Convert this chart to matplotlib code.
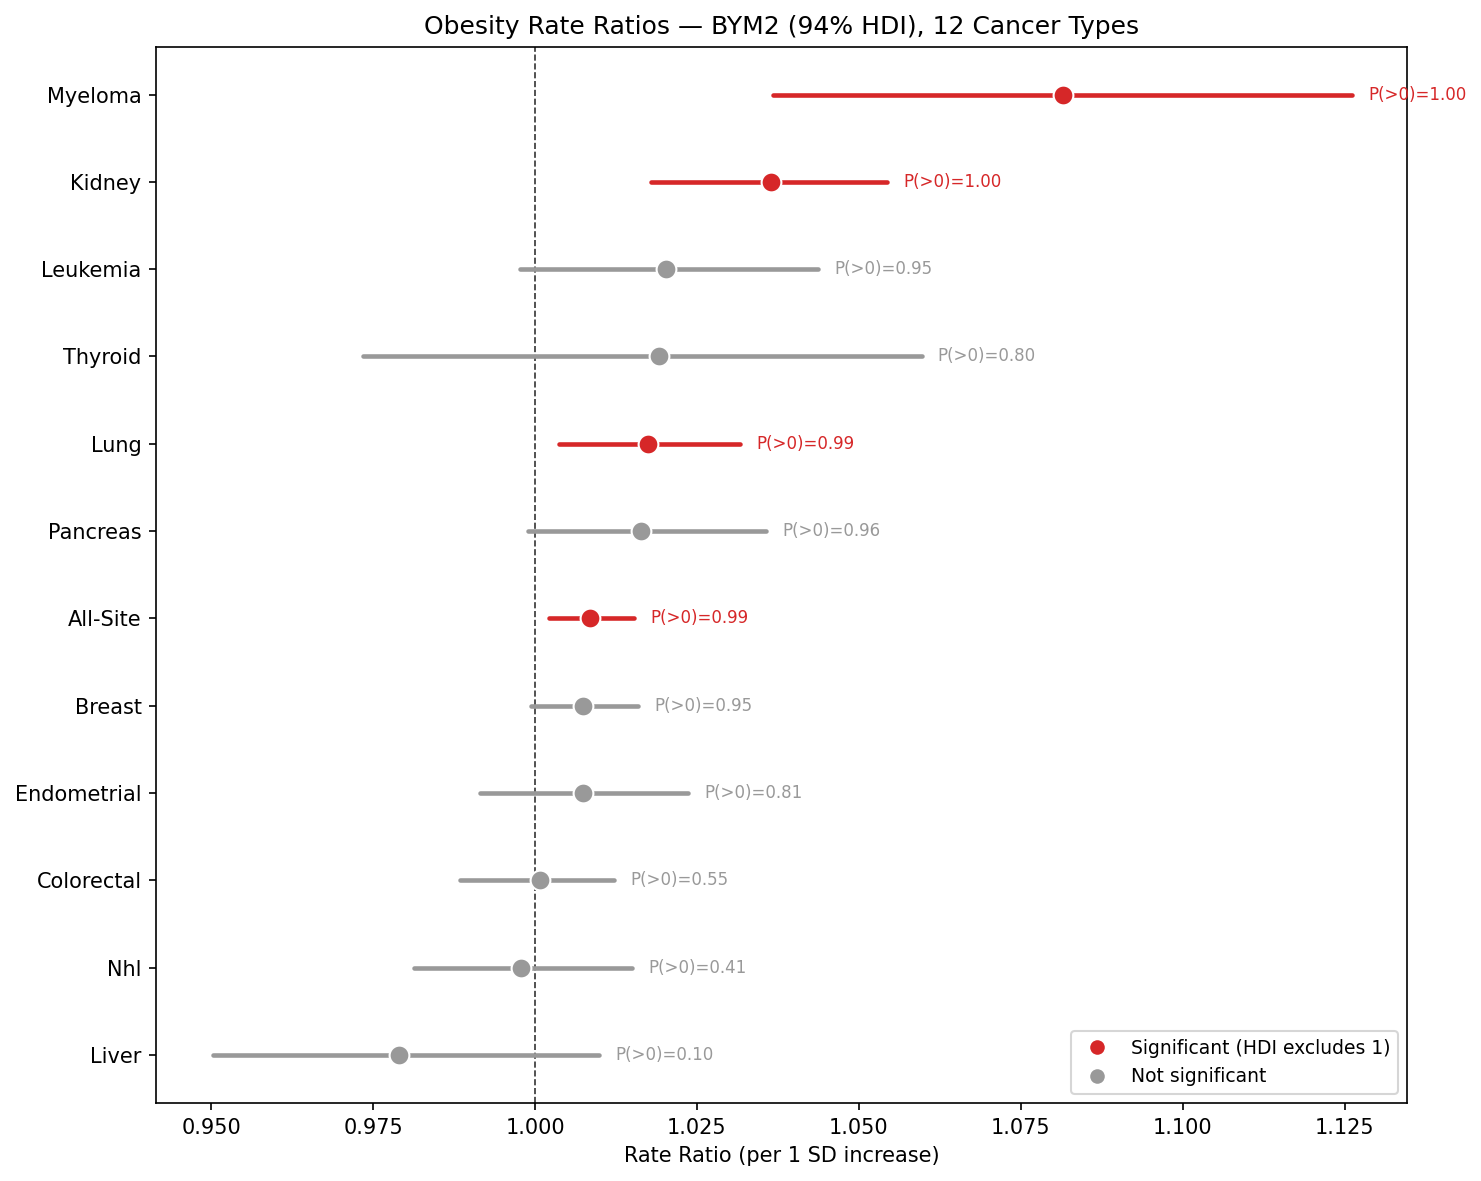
import numpy as np
import matplotlib
matplotlib.use("Agg")
import matplotlib.pyplot as plt
from matplotlib.lines import Line2D

# cancer types, bottom to top
cancers = ["Liver", "Nhl", "Colorectal", "Endometrial", "Breast", "All-Site",
           "Pancreas", "Lung", "Thyroid", "Leukemia", "Kidney", "Myeloma"]
rr_mean = [0.9790, 0.9978, 1.0008, 1.0074, 1.0074, 1.0085,
           1.0164, 1.0174, 1.0191, 1.0202, 1.0364, 1.0815]
hdi_low = [0.9503, 0.9813, 0.9884, 0.9915, 0.9994, 1.0022,
           0.9989, 1.0037, 0.9735, 0.9977, 1.0179, 1.0367]
hdi_high = [1.0099, 1.0150, 1.0122, 1.0236, 1.0159, 1.0153,
            1.0357, 1.0316, 1.0597, 1.0437, 1.0543, 1.1262]
p_pos = [0.10, 0.41, 0.55, 0.81, 0.95, 0.99,
         0.96, 0.99, 0.80, 0.95, 1.00, 1.00]

RED = "#d62728"
GREY = "#999999"

fig, ax = plt.subplots(figsize=(10, 8))

y = np.arange(len(cancers))
for i in range(len(cancers)):
    sig = hdi_low[i] > 1 or hdi_high[i] < 1
    c = RED if sig else GREY
    ax.plot([hdi_low[i], hdi_high[i]], [y[i], y[i]], color=c, linewidth=2.2,
            solid_capstyle="round", zorder=2)
    ax.plot(rr_mean[i], y[i], "o", color=c, markersize=9.5,
            markeredgecolor="white", markeredgewidth=1, zorder=3)
    ax.text(hdi_high[i] + 0.0025, y[i], f"P(>0)={p_pos[i]:.2f}", color=c,
            fontsize=8, va="center", ha="left")

ax.axvline(1.0, color="#333333", linestyle="--", linewidth=0.8, zorder=1)

ax.set_yticks(y)
ax.set_yticklabels(cancers)
ax.set_ylim(-0.55, 11.55)
ax.set_xlim(0.9415, 1.1347)
ax.set_xticks([0.950, 0.975, 1.000, 1.025, 1.050, 1.075, 1.100, 1.125])
ax.set_xticklabels(["0.950", "0.975", "1.000", "1.025", "1.050", "1.075", "1.100", "1.125"])
ax.set_xlabel("Rate Ratio (per 1 SD increase)")
ax.set_title("Obesity Rate Ratios — BYM2 (94% HDI), 12 Cancer Types")

handles = [Line2D([0], [0], marker="o", color="w", markerfacecolor=RED, markersize=8,
                  label="Significant (HDI excludes 1)"),
           Line2D([0], [0], marker="o", color="w", markerfacecolor=GREY, markersize=8,
                  label="Not significant")]
ax.legend(handles=handles, loc="lower right", fontsize=9)

plt.tight_layout()
plt.savefig("out.png", dpi=150, bbox_inches="tight")
